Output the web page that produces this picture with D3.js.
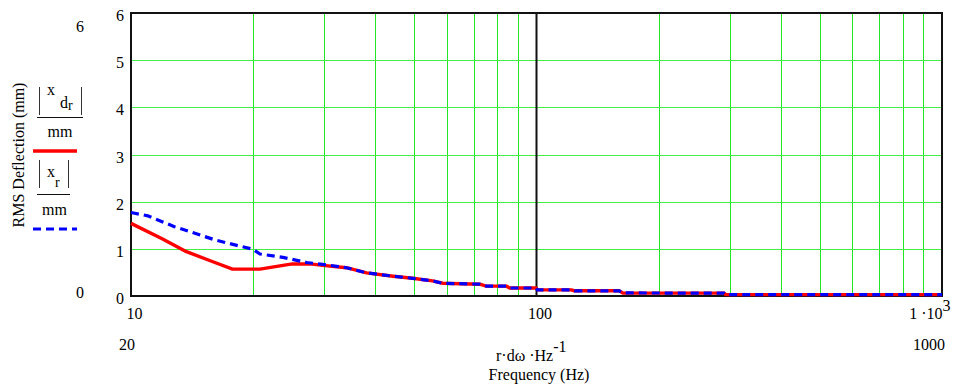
<!DOCTYPE html>
<html>
<head>
<meta charset="utf-8">
<script src="https://cdn.jsdelivr.net/npm/d3@7"></script>
<style>
  body { margin: 0; background: #fff; }
  text { font-family: "Liberation Serif", "DejaVu Serif", "Times New Roman", serif; font-size: 16px; fill: #000; }
</style>
</head>
<body>
<svg width="960" height="387"></svg>
<script>
// axis ticks
var yTicks = [0, 1, 2, 3, 4, 5, 6];
var xTicks = [10, 100, 1000];
var gridFreqs = [20, 30, 40, 50, 60, 70, 80, 90, 200, 300, 400, 500, 600, 700, 800, 900];

// |x d_r| (red) low-frequency part
var redFreq = [10, 11.9, 13.7, 16.1, 17.8, 20.8, 23.3, 25, 27.6, 29.7];
var redVal  = [1.54, 1.22, 0.94, 0.71, 0.57, 0.57, 0.64, 0.68, 0.68, 0.65];

// |x_r| (blue) low-frequency part
var blueFreq = [10, 11, 12.8, 16.1, 18.7, 20, 20.8, 23.7, 27.1, 29.7];
var blueVal  = [1.77, 1.70, 1.47, 1.19, 1.05, 0.99, 0.89, 0.82, 0.71, 0.67];

// both curves coincide above ~33 Hz
var tailFreq = [34, 38.1, 44.3, 49.5, 55.4, 58.7, 72.4, 75.2, 84.2, 85.8, 99.8, 100.5, 122, 124, 160, 163, 290, 293, 1000];
var tailVal  = [0.60, 0.49, 0.42, 0.375, 0.32, 0.27, 0.25, 0.21, 0.21, 0.17, 0.17, 0.13, 0.13, 0.11, 0.11, 0.065, 0.06, 0.03, 0.03];

var svg = d3.select("svg");

var x = d3.scaleLog().domain([10, 1000]).range([131, 942]);
var y = d3.scaleLinear().domain([0, 6]).range([296, 13]);

function zip(fs, vs) { return fs.map(function(f, i) { return {f: f, v: vs[i]}; }); }
var red = zip(redFreq.concat(tailFreq), redVal.concat(tailVal));
var blue = zip(blueFreq.concat(tailFreq), blueVal.concat(tailVal));

// grid
svg.append("g").selectAll("line")
  .data(gridFreqs)
  .enter().append("line")
    .attr("x1", function(d) { return Math.round(x(d)) + 0.5; })
    .attr("x2", function(d) { return Math.round(x(d)) + 0.5; })
    .attr("y1", y(6)).attr("y2", y(0))
    .attr("stroke", "#22e622").attr("stroke-width", 1);

svg.append("g").selectAll("line")
  .data(yTicks.slice(1, 6))
  .enter().append("line")
    .attr("x1", x(10)).attr("x2", x(1000))
    .attr("y1", function(d) { return Math.round(y(d)) + 0.5; })
    .attr("y2", function(d) { return Math.round(y(d)) + 0.5; })
    .attr("stroke", "#44ee44").attr("stroke-width", 1);

// black line at 100
svg.append("line")
  .attr("x1", x(100)).attr("x2", x(100))
  .attr("y1", y(6)).attr("y2", y(0))
  .attr("stroke", "#111").attr("stroke-width", 2);

// frame
svg.append("rect")
  .attr("x", x(10)).attr("y", y(6))
  .attr("width", x(1000) - x(10)).attr("height", y(0) - y(6))
  .attr("fill", "none").attr("stroke", "#111").attr("stroke-width", 2);

// traces
var line = d3.line()
  .x(function(d) { return x(d.f); })
  .y(function(d) { return y(d.v); });

svg.append("path").datum(red)
  .attr("d", line)
  .attr("fill", "none").attr("stroke", "#ff0000").attr("stroke-width", 3.4)
  .attr("stroke-linejoin", "round");

svg.append("path").datum(blue)
  .attr("d", line)
  .attr("fill", "none").attr("stroke", "#0000ff").attr("stroke-width", 3.2)
  .attr("stroke-dasharray", "8,5");

// y tick labels
var yAxis = svg.append("g")
  .attr("transform", "translate(124,0)")
  .call(d3.axisLeft(y).tickValues(yTicks).tickSize(0).tickPadding(0).tickFormat(d3.format("d")));
yAxis.select(".domain").remove();
yAxis.selectAll("text").attr("dy", 7.5);

// x tick labels
var xAxis = svg.append("g")
  .attr("transform", "translate(0," + y(0) + ")")
  .call(d3.axisBottom(x).tickValues(xTicks).tickSize(0).tickPadding(12).tickFormat(d3.format("d")));
xAxis.select(".domain").remove();
xAxis.selectAll("text").attr("dx", 3);
xAxis.selectAll("text").filter(function(d) { return d === 1000; })
  .text(null)
  .attr("text-anchor", "end")
  .attr("dx", 8)
  .call(function(t) {
    t.append("tspan").text("1 \u00b710");
    t.append("tspan").attr("dy", -8).text("3");
  });

// range labels
svg.append("text").attr("x", 80).attr("y", 32).attr("text-anchor", "middle").text("6");
svg.append("text").attr("x", 80).attr("y", 298).attr("text-anchor", "middle").text("0");
svg.append("text").attr("x", 119).attr("y", 350).text("20");
svg.append("text").attr("x", 945).attr("y", 350).attr("text-anchor", "end").text("1000");

// x axis expression and title
var xe = svg.append("text").attr("x", 496).attr("y", 361);
xe.append("tspan").text("r\u00b7d\u03c9 \u00b7Hz");
xe.append("tspan").attr("dy", -9).text("-1");
svg.append("text").attr("x", 539).attr("y", 380).attr("text-anchor", "middle").text("Frequency (Hz)");

// y title
svg.append("text")
  .attr("transform", "translate(24,155) rotate(-90)")
  .attr("text-anchor", "middle")
  .text("RMS Deflection (mm)");

// legend: |x d_r| / mm
var lg = svg.append("g");
lg.append("line").attr("x1", 39.5).attr("x2", 39.5).attr("y1", 87).attr("y2", 115).attr("stroke", "#333");
lg.append("line").attr("x1", 81.5).attr("x2", 81.5).attr("y1", 87).attr("y2", 115).attr("stroke", "#333");
lg.append("text").attr("x", 47).attr("y", 95).text("x");
var dr = lg.append("text").attr("x", 60).attr("y", 108);
dr.append("tspan").text("d");
dr.append("tspan").attr("dy", 2).style("font-size", "14px").text("r");
lg.append("line").attr("x1", 37).attr("x2", 83).attr("y1", 117.5).attr("y2", 117.5).attr("stroke", "#111");
lg.append("text").attr("x", 60).attr("y", 137).attr("text-anchor", "middle").text("mm");
lg.append("line").attr("x1", 33).attr("x2", 77).attr("y1", 151).attr("y2", 151)
  .attr("stroke", "#ff0000").attr("stroke-width", 3.4);

// legend: |x_r| / mm
lg.append("line").attr("x1", 39.5).attr("x2", 39.5).attr("y1", 160).attr("y2", 188).attr("stroke", "#333");
lg.append("line").attr("x1", 68.5).attr("x2", 68.5).attr("y1", 160).attr("y2", 188).attr("stroke", "#333");
var xr = lg.append("text").attr("x", 47).attr("y", 177);
xr.append("tspan").text("x");
xr.append("tspan").attr("dy", 10).style("font-size", "14px").text("r");
lg.append("line").attr("x1", 37).attr("x2", 70).attr("y1", 194.5).attr("y2", 194.5).attr("stroke", "#111");
lg.append("text").attr("x", 54.5).attr("y", 215).attr("text-anchor", "middle").text("mm");
lg.append("line").attr("x1", 33).attr("x2", 77).attr("y1", 229).attr("y2", 229)
  .attr("stroke", "#0000ff").attr("stroke-width", 3.2).attr("stroke-dasharray", "8,5");
</script>
</body>
</html>
